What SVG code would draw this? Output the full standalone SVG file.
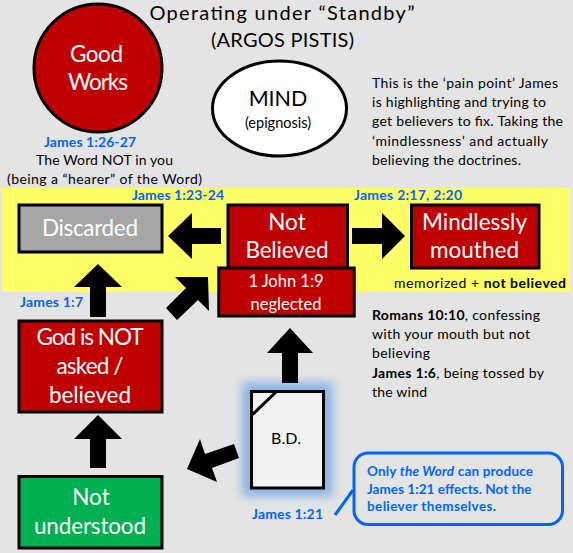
<svg xmlns="http://www.w3.org/2000/svg" width="573" height="553" viewBox="0 0 573 553">
<style>
text{font-family:"Lato","Carlito","Liberation Sans",sans-serif;text-anchor:middle;fill:#000}
.w{fill:#fff;font-size:22.5px}
.box{stroke:#000;stroke-width:3}
.red{fill:#c00000}
.ref{fill:#0066ff;font-size:14px;font-weight:700}
.note{font-size:14px;text-anchor:start}
.call{fill:#0066ff;font-size:13.5px;font-weight:700;text-anchor:start}
.arrow{fill:#000}
</style>
<defs>
<filter id="glow" x="-40%" y="-40%" width="180%" height="180%"><feGaussianBlur stdDeviation="5"/></filter>
</defs>
<rect width="573" height="553" fill="#e4e4e4"/>
<rect x="2" y="188" width="568" height="104" fill="#ffff66"/>
<g id="title">
<text x="282" y="20" font-size="20" textLength="265">Operating under “Standby”</text>
<text x="282.500" y="47" font-size="20" textLength="143">(ARGOS PISTIS)</text>
</g>
<g id="good-works">
<circle class="box red" cx="98" cy="68" r="64"/>
<text class="w" x="96.500" y="62" textLength="53">Good</text>
<text class="w" x="98" y="90" textLength="60">Works</text>
<text class="ref" x="90" y="147" textLength="92">James 1:26-27</text>
<text x="104.500" y="165" font-size="14" textLength="137">The Word NOT in you</text>
<text x="104.500" y="184" font-size="14" textLength="195">(being a “hearer” of the Word)</text>
</g>
<g id="mind">
<ellipse cx="279.500" cy="108.500" rx="67" ry="47.500" fill="#fff" class="box"/>
<text x="278" y="106" font-size="21.500">MIND</text>
<text x="278" y="128" font-size="14.500">(epignosis)</text>
</g>
<g id="pain-note">
<text class="note" x="372" y="88" textLength="186">This is the ‘pain point’ James</text>
<text class="note" x="372" y="107" textLength="174">is highlighting and trying to</text>
<text class="note" x="372" y="126" textLength="191">get believers to fix. Taking the</text>
<text class="note" x="372" y="146" textLength="176">‘mindlessness’ and actually</text>
<text class="note" x="372" y="165" textLength="149">believing the doctrines.</text>
</g>
<g id="discarded">
<rect class="box" x="19" y="205" width="143" height="47" fill="#a6a6a6"/>
<text class="w" x="90" y="236" textLength="96">Discarded</text>
<text class="ref" x="178" y="200" textLength="92">James 1:23-24</text>
</g>
<g id="not-believed">
<rect class="box red" x="228" y="205" width="119.500" height="66"/>
<text class="w" x="287" y="230">Not</text>
<text class="w" x="287" y="258" textLength="83">Believed</text>
<text class="ref" x="408" y="200" textLength="108">James 2:17, 2:20</text>
</g>
<g id="neglected">
<rect class="box red" x="218.800" y="268" width="135.400" height="48"/>
<text x="286" y="287" font-size="16.500" style="fill:#fff">1 John 1:9</text>
<text x="286" y="310" font-size="16.500" style="fill:#fff">neglected</text>
</g>
<g id="mindlessly">
<rect class="box red" x="411.500" y="205" width="127.500" height="63"/>
<text class="w" x="474.500" y="230" textLength="105">Mindlessly</text>
<text class="w" x="474.500" y="258" textLength="89">mouthed</text>
<text x="566" y="288" font-size="14" textLength="172" style="text-anchor:end">memorized + <tspan font-weight="700">not believed</tspan></text>
</g>
<g id="god-not-asked">
<rect class="box red" x="19" y="321" width="143" height="91"/>
<text class="w" x="90" y="345" textLength="107">God is NOT</text>
<text class="w" x="90" y="374" textLength="67">asked /</text>
<text class="w" x="90" y="403" textLength="82">believed</text>
<text class="ref" x="51.500" y="307" textLength="63">James 1:7</text>
</g>
<g id="romans-note">
<text class="note" x="372" y="320" textLength="168"><tspan font-weight="700">Romans 10:10</tspan>, confessing</text>
<text class="note" x="372" y="339" textLength="158">with your mouth but not</text>
<text class="note" x="372" y="358" textLength="58">believing</text>
<text class="note" x="372" y="378" textLength="172"><tspan font-weight="700">James 1:6</tspan>, being tossed by</text>
<text class="note" x="372" y="397" textLength="55">the wind</text>
</g>
<g id="not-understood">
<rect class="box" x="19" y="476.500" width="143" height="71.500" fill="#00b050"/>
<text class="w" x="91" y="505">Not</text>
<text class="w" x="90" y="534" textLength="112">understood</text>
</g>
<g id="bd">
<rect x="242" y="382" width="91" height="115" fill="#8db4e8" filter="url(#glow)"/>
<path d="M251.500 391.500H323.500V488H251.500Z" fill="#f2f2f2" stroke="#000" stroke-width="3"/>
<path d="M252 415L276 392" fill="none" stroke="#000" stroke-width="3"/>
<text x="286" y="444" font-size="16" textLength="30">B.D.</text>
<text class="ref" x="287.500" y="519" textLength="71">James 1:21</text>
</g>
<g id="callout">
<rect x="354" y="453" width="208.500" height="71.500" rx="14" fill="none" stroke="#0066ff" stroke-width="3"/>
<text class="call" x="367" y="476" textLength="166">Only <tspan font-style="italic">the Word</tspan> can produce</text>
<text class="call" x="367" y="493.500" textLength="164.500">James 1:21 effects. Not the</text>
<text class="call" x="367" y="511" textLength="129">believer themselves.</text>
</g>
<g id="connectors" class="arrow">
<path d="M221 228H192V213L168 236L192 259V244H221Z"/>
<path d="M352 228H382V213L405 236L382 259V244H352Z"/>
<path d="M90 317V287H74L98 264L122 287H106V317Z"/>
<path d="M90 468V439H74L98 415L122 439H106V468Z"/>
<path d="M166 308L186 288L175 277H208L209 311L198 300L177 320Z"/>
<path d="M282 383V353H267L290 328L313 353H298V383Z"/>
<path d="M234 444L205 454L200 439L187 469L217 482L212 468L239 458Z"/>
<path d="M353 490L335 515" fill="none" stroke="#0066ff" stroke-width="3"/>
</g>
</svg>
